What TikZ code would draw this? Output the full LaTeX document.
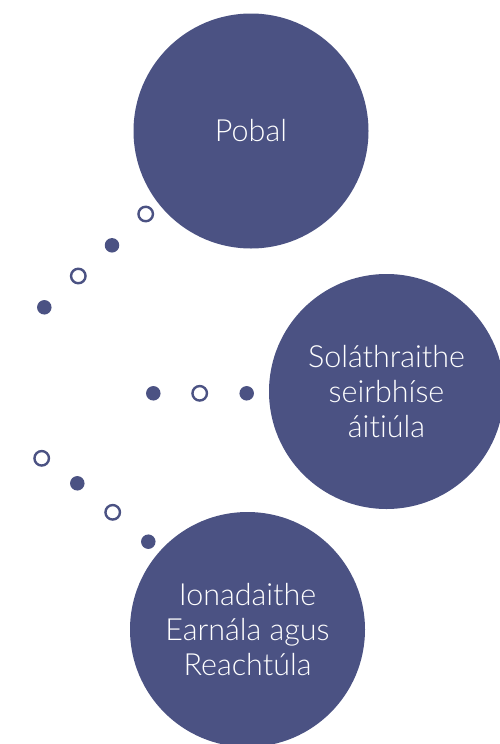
\documentclass[tikz,border=0pt]{standalone}
\usepackage{fontspec}
\setmainfont{Lato}[UprightFont=* Light,RawFeature={-liga;-dlig;-clig}]
\definecolor{navy}{HTML}{4B5283}
\begin{document}
\begin{tikzpicture}[x=1pt,y=-1pt,
  big/.style={circle,fill=navy,draw=none,minimum size=235pt,inner sep=0pt,text=white,align=center,
    font=\fontsize{30.5}{35}\selectfont},
  fdot/.style={circle,fill=navy,draw=none,minimum size=14.5pt,inner sep=0pt},
  odot/.style={circle,draw=navy,line width=2.4pt,fill=white,minimum size=14.5pt,inner sep=0pt}]
\useasboundingbox (0,0) rectangle (500,744);
\node[big] (pobal) at (251,131) {Pobal};
\node[big] (sol) at (386.5,391.5) {Soláthraithe\\seirbhíse\\áit\kern0pt iúla};
\node[big] (ion) at (247.5,629.5) {Ionadaithe\\Earnála agus\\Reachtúla};
\node[odot] (a1) at (145.7,214) {};
\node[fdot] (a2) at (112,245.3) {};
\node[odot] (a3) at (78.3,276) {};
\node[fdot] (a4) at (44.3,307.3) {};
\node[fdot] (b1) at (153.3,393.3) {};
\node[odot] (b2) at (199.7,393.3) {};
\node[fdot] (b3) at (246.7,393.3) {};
\node[odot] (c1) at (41.7,458.3) {};
\node[fdot] (c2) at (77.3,483.3) {};
\node[odot] (c3) at (112.7,512.3) {};
\node[fdot] (c4) at (148.3,541.7) {};
\end{tikzpicture}
\end{document}
